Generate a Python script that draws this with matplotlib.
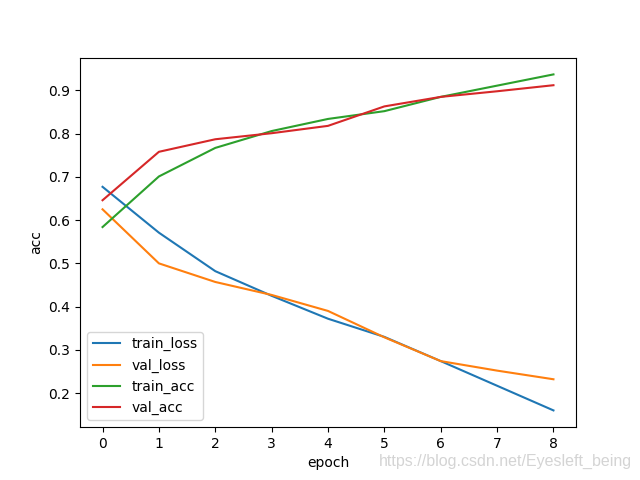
import numpy as np
import matplotlib
matplotlib.use('Agg')
import matplotlib.pyplot as plt

epochs = np.arange(9)
train_loss = [0.677, 0.571, 0.482, 0.425, 0.372, 0.330, 0.274, 0.217, 0.160]
val_loss = [0.625, 0.500, 0.457, 0.427, 0.390, 0.329, 0.274, 0.252, 0.232]
train_acc = [0.584, 0.701, 0.767, 0.806, 0.834, 0.852, 0.885, 0.911, 0.937]
val_acc = [0.646, 0.758, 0.787, 0.801, 0.818, 0.863, 0.885, 0.898, 0.912]

fig = plt.figure(figsize=(6.4, 4.8), dpi=100)
plt.plot(epochs, train_loss, label='train_loss')
plt.plot(epochs, val_loss, label='val_loss')
plt.plot(epochs, train_acc, label='train_acc')
plt.plot(epochs, val_acc, label='val_acc')
plt.xlabel('epoch')
plt.ylabel('acc')
plt.legend(loc='lower left')

# watermark
fig.text(0.988, 0.022, 'https://blog.csdn.net/Eyesleft_being', ha='right', va='bottom',
         color='#d4d4d4', fontsize=11.5, family=['Liberation Sans', 'DejaVu Sans'])

plt.savefig('out.png')
